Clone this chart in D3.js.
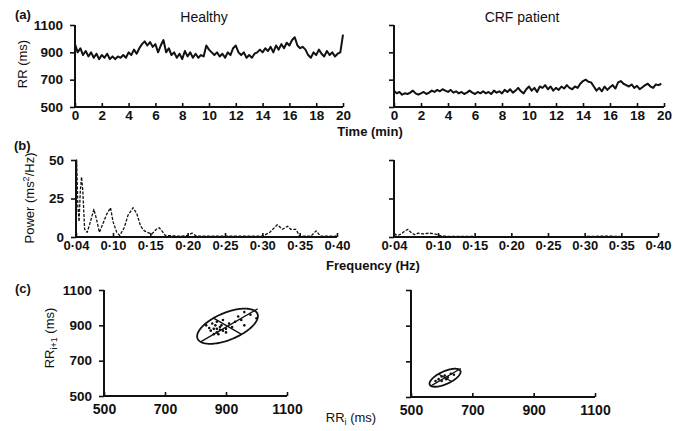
<!DOCTYPE html>
<html><head><meta charset="utf-8">
<script src="https://cdn.jsdelivr.net/npm/d3@7"></script>
<style>
body{margin:0;background:#fff}
svg{display:block}
text{font-family:"Liberation Sans",Arial,Helvetica,sans-serif;fill:#111}
</style>
</head><body>
<svg id="chart" width="686" height="431"></svg>
<script>
// ---------------- DATA ----------------
const panelTitles = ["Healthy", "CRF patient"];
const panelLetters = ["(a)", "(b)", "(c)"];
const timeStepMin = 0.2;
const rrHealthy = [960,900,930,880,910,870,900,860,890,850,880,860,890,850,870,850,870,860,880,860,
  900,880,920,890,930,960,980,950,975,940,960,900,950,990,900,930,880,900,860,890,
  850,910,870,900,860,890,860,880,870,950,920,900,880,900,870,890,860,900,880,930,
  950,900,880,900,860,880,860,890,900,920,900,930,910,940,900,950,920,960,930,970,
  950,990,1010,950,930,940,920,880,860,900,880,920,890,870,910,880,900,870,890,900,1030];
const rrCRF = [620,600,610,590,600,595,605,620,600,590,600,610,595,605,620,610,625,615,630,620,
  610,625,605,615,600,610,595,605,620,605,595,610,600,615,600,610,595,620,605,615,
  600,625,610,630,605,620,640,615,600,630,650,620,640,610,650,640,660,630,650,620,
  640,625,650,635,660,640,630,650,640,670,690,700,685,680,650,620,640,615,650,625,
  645,660,635,680,690,670,660,650,665,640,655,630,645,660,670,650,640,665,660,670];
const timeTicks = [0,2,4,6,8,10,12,14,16,18,20];
const rrTicks = [500,700,900,1100];
const freqTicks = [0.04,0.10,0.15,0.20,0.25,0.30,0.35,0.40];
const powerTicks = [0,25,50];
const specHealthy = [[0.040,0],[0.041,50],[0.043,20],[0.045,10],[0.047,30],[0.049,39],[0.051,30],[0.054,5],
  [0.058,3],[0.062,8],[0.069,18],[0.073,12],[0.078,3],[0.083,8],[0.090,15],[0.096,19],[0.100,10],
  [0.105,3],[0.109,1],[0.115,6],[0.120,14],[0.127,19],[0.132,15],[0.137,7],[0.142,4],[0.146,3],
  [0.152,2],[0.158,5],[0.162,6],[0.167,3],[0.170,1],[0.190,0.5],[0.200,1],[0.206,2.5],[0.212,0.5],
  [0.250,0.5],[0.300,0.5],[0.310,3],[0.320,8],[0.327,5],[0.334,7],[0.338,5],[0.345,5],[0.350,0.5],
  [0.365,0.5],[0.372,4],[0.378,0.5],[0.400,0.5]];
const specCRF = [[0.040,2],[0.045,1],[0.050,2],[0.055,4],[0.059,5],[0.063,3],[0.068,1.5],[0.073,2.5],
  [0.080,2],[0.088,2.5],[0.095,2],[0.100,1.5],[0.105,0.5],[0.150,0.3],[0.200,0.2],[0.300,0.3],
  [0.330,0.6],[0.350,0.3],[0.400,0.2]];
const poincareTicks = [500,700,900,1100];
// ellipse: centre (RRi, RRi+1), semi-axis along identity line (SD2) and across it (SD1)
const ellipseHealthy = [905, 895, 125, 65];
const ellipseCRF = [611, 608, 65, 30];
const ptsHealthy = [[850,870],[860,880],[870,860],[880,890],[865,900],[890,870],[875,850],[900,880],
  [885,900],[910,910],[920,890],[930,920],[950,930],[960,900],[940,950],[980,960],[870,920],
  [890,930],[900,860],[860,850],[845,885],[1000,940],[960,975],[835,900],[855,910],[880,875],[870,880]];
const ptsCRF = [[590,600],[600,590],[610,620],[620,610],[630,630],[600,615],[615,600],[580,590],[640,625]];

// ---------------- LAYOUT ----------------
const svg = d3.select("#chart");
const L = { // panel frames [x0, x1, yBottom, yTop]
  aL:[75,343,107,25], aR:[394,664,107,25],
  bL:[76,337,237,160], bR:[394,658,237,160],
  cL:[104,287,396,290], cR:[411,595,397,290]
};
const fmtFreq = d => d.toFixed(2).replace(".", "\u00b7");

function styleAxis(g, fs) {
  g.select(".domain").attr("stroke","#111").attr("stroke-width",2);
  g.selectAll(".tick line").attr("stroke","#111").attr("stroke-width",1.6);
  g.selectAll(".tick text").attr("font-size",fs).attr("font-weight","bold").attr("fill","#111")
    .attr("font-family",'"Liberation Sans",Arial,sans-serif');
}
function drawFrame(xs, ys, f, xTicks, yTicks, xFmt, yLabels, fs, xPad) {
  const gx = svg.append("g").attr("transform",`translate(0,${f[2]})`)
    .call(d3.axisBottom(xs).tickValues(xTicks).tickSize(-4).tickSizeOuter(0).tickPadding(xPad).tickFormat(xFmt));
  styleAxis(gx, fs);
  gx.select(".domain").attr("d", `M${f[0]-1},0H${f[1]}`);
  const gy = svg.append("g").attr("transform",`translate(${f[0]},0)`)
    .call(d3.axisLeft(ys).tickValues(yTicks).tickSize(5).tickSizeOuter(0).tickPadding(7)
      .tickFormat(yLabels ? d3.format("d") : () => ""));
  styleAxis(gy, 13.5);
  gy.select(".domain").attr("d", `M0,${f[3]}V${f[2]+1}`);
}

// ---------- (a) RR time series ----------
[[L.aL, rrHealthy, true],[L.aR, rrCRF, false]].forEach(([f, data, lab]) => {
  const x = d3.scaleLinear().domain([0,20]).range([f[0], f[1]]);
  const y = d3.scaleLinear().domain([500,1100]).range([f[2], f[3]]);
  drawFrame(x, y, f, timeTicks, rrTicks, d3.format("d"), lab, 13.5, 3);
  svg.append("path").datum(data)
    .attr("d", d3.line().x((d,i)=>x(i*timeStepMin)).y(d=>y(d)))
    .attr("fill","none").attr("stroke","#111").attr("stroke-width",2).attr("stroke-linejoin","round");
});

// ---------- (b) spectra ----------
[[L.bL, specHealthy, true, 113],[L.bR, specCRF, false, 438]].forEach(([f, data, lab, x10]) => {
  const x = d3.scaleLinear().domain([0.04,0.10,0.40]).range([f[0], x10, f[1]]);
  const y = d3.scaleLinear().domain([0,50]).range([f[2], f[3]]);
  drawFrame(x, y, f, freqTicks, powerTicks, fmtFreq, lab, 13, 4);
  svg.append("path").datum(data)
    .attr("d", d3.line().x(d=>x(d[0])).y(d=>y(d[1])))
    .attr("fill","none").attr("stroke","#111").attr("stroke-width",1.3)
    .attr("stroke-dasharray","3,1.5").attr("stroke-linejoin","round");
});

// ---------- (c) Poincaré plots ----------
[[L.cL, ellipseHealthy, ptsHealthy, true],[L.cR, ellipseCRF, ptsCRF, false]].forEach(([f, e, pts, lab]) => {
  const x = d3.scaleLinear().domain([500,1100]).range([f[0], f[1]]);
  const y = d3.scaleLinear().domain([500,1100]).range([f[2], f[3]]);
  drawFrame(x, y, f, poincareTicks, poincareTicks, d3.format("d"), lab, 14, 8);
  const [cx, cy, a, b] = e, c45 = Math.SQRT1_2;
  const ang = d3.range(0, 2*Math.PI + 0.01, Math.PI/60);
  const pt = (u, v) => [x(cx + (u - v)*c45), y(cy + (u + v)*c45)];
  svg.append("path").datum(ang)
    .attr("d", d3.line().x(t=>pt(a*Math.cos(t), b*Math.sin(t))[0]).y(t=>pt(a*Math.cos(t), b*Math.sin(t))[1]))
    .attr("fill","none").attr("stroke","#111").attr("stroke-width",1.8);
  const axes = [[pt(-a,0), pt(a*1.12,0)], [pt(0,-b), pt(0,b)]];
  axes.forEach(s => svg.append("line").attr("x1",s[0][0]).attr("y1",s[0][1]).attr("x2",s[1][0]).attr("y2",s[1][1])
    .attr("stroke","#111").attr("stroke-width",1.3));
  svg.append("g").selectAll("circle").data(pts).join("circle")
    .attr("cx",d=>x(d[0])).attr("cy",d=>y(d[1])).attr("r",1.3).attr("fill","#111");
});

// ---------- Text ----------
const T = (x, y, s, opt={}) => svg.append("text").attr("x",x).attr("y",y)
  .attr("font-size",opt.fs||13).attr("font-weight",opt.fw||"normal")
  .attr("text-anchor",opt.anchor||"start").attr("transform",opt.rot?`rotate(-90,${x},${y})`:null).text(s);
T(15, 19, panelLetters[0], {fw:"bold", fs:13});
T(14, 150, panelLetters[1], {fw:"bold", fs:13});
T(15, 293, panelLetters[2], {fw:"bold", fs:13});
T(204, 22, panelTitles[0], {anchor:"middle", fs:14});
T(522, 22, panelTitles[1], {anchor:"middle", fs:14});
T(370, 136, "Time (min)", {anchor:"middle", fw:"bold", fs:13});
T(373, 270, "Frequency (Hz)", {anchor:"middle", fw:"bold", fs:13});
T(27, 64, "RR (ms)", {anchor:"middle", rot:true, fs:13});
const pw = svg.append("text").attr("transform","translate(34,198) rotate(-90)").attr("text-anchor","middle").attr("font-size",13);
pw.append("tspan").text("Power (ms");
pw.append("tspan").attr("font-size",9).attr("dy",-5).text("2");
pw.append("tspan").attr("dy",5).text("/Hz)");
const ry = svg.append("text").attr("transform","translate(54,338) rotate(-90)").attr("text-anchor","middle").attr("font-size",13);
ry.append("tspan").text("RR");
ry.append("tspan").attr("font-size",9).attr("dy",3).text("i+1");
ry.append("tspan").attr("dy",-3).text(" (ms)");
const rx = svg.append("text").attr("x",351).attr("y",422).attr("text-anchor","middle").attr("font-size",13);
rx.append("tspan").text("RR");
rx.append("tspan").attr("font-size",9).attr("dy",3).text("i");
rx.append("tspan").attr("dy",-3).text(" (ms)");
</script>
</body></html>
